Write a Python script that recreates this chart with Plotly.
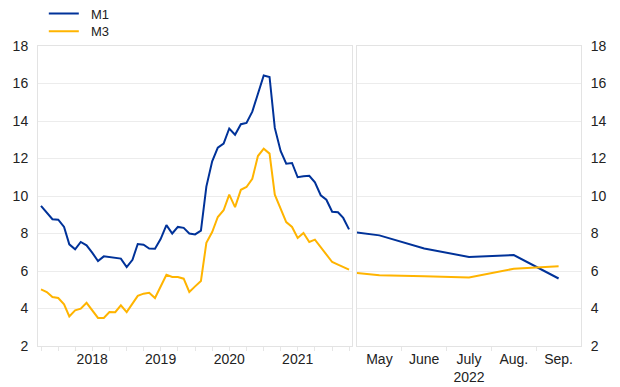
import plotly.graph_objects as go
import pandas as pd

months_left = pd.date_range("2017-10-01", "2022-04-01", freq="MS")
m1_left = [9.47, 9.1, 8.76, 8.74, 8.35, 7.42, 7.16, 7.55, 7.37, 6.98, 6.53, 6.78, 6.75, 6.69, 6.66,
           6.21, 6.6, 7.44, 7.4, 7.2, 7.19, 7.7, 8.45, 8.0, 8.35, 8.3, 8.0,
           7.95, 8.15, 10.5, 11.85, 12.58, 12.8, 13.6, 13.27, 13.83, 13.9, 14.5, 15.45,
           16.43, 16.35, 13.63, 12.4, 11.72, 11.76, 11.0, 11.05, 11.08, 10.73, 10.04, 9.8,
           9.16, 9.13, 8.83, 8.22]
m3_left = [5.02, 4.88, 4.61, 4.56, 4.22, 3.58, 3.9, 3.99, 4.3, 3.93, 3.5, 3.5, 3.81, 3.8, 4.17,
           3.81, 4.25, 4.67, 4.79, 4.84, 4.56, 5.15, 5.8, 5.68, 5.68, 5.59, 4.88,
           5.18, 5.47, 7.5, 8.08, 8.88, 9.24, 10.07, 9.41, 10.33, 10.48, 10.92, 12.13,
           12.52, 12.26, 10.07, 9.32, 8.61, 8.35, 7.76, 8.03, 7.55, 7.67, 7.28, 6.92,
           6.48, 6.34, 6.21, 6.07]

months_right = ["Apr.", "May", "June", "July", "Aug.", "Sep."]
m1_right = [8.2, 7.9, 7.2, 6.75, 6.85, 5.6]
m3_right = [6.0, 5.78, 5.72, 5.65, 6.12, 6.25]

year_labels = ["2018", "2019", "2020", "2021"]
y_ticks = [2, 4, 6, 8, 10, 12, 14, 16, 18]

BLUE = "#003299"
YELLOW = "#FFB400"
GRID = "#ececec"
FRAME = "#e3e3e3"
FONT = "Liberation Sans, Arial, sans-serif"
PAD = "\u00a0\u00a0"

fig = go.Figure()
fig.add_trace(go.Scatter(x=months_left, y=m1_left, mode="lines", name=PAD + "M1",
                         line=dict(color=BLUE, width=2), xaxis="x", yaxis="y", legend="legend"))
fig.add_trace(go.Scatter(x=months_left, y=m3_left, mode="lines", name=PAD + "M3",
                         line=dict(color=YELLOW, width=2), xaxis="x", yaxis="y", legend="legend2"))
xr = list(range(len(months_right)))
fig.add_trace(go.Scatter(x=xr, y=m1_right, mode="lines", name="M1", showlegend=False,
                         line=dict(color=BLUE, width=2), xaxis="x2", yaxis="y2"))
fig.add_trace(go.Scatter(x=xr, y=m3_right, mode="lines", name="M3", showlegend=False,
                         line=dict(color=YELLOW, width=2), xaxis="x2", yaxis="y2"))

right_text = [m if m != "July" else "July<br>2022" for m in months_right]

leg_common = dict(xanchor="left", yanchor="middle", orientation="v",
                  font=dict(size=13, color="#222222"), bgcolor="rgba(0,0,0,0)")

# page body has an 8px default margin: figure is 612x379 so the drawing fits the 620x387 window
fig.update_layout(
    width=612, height=379,
    margin=dict(l=30, r=39, t=38, b=41, autoexpand=False),
    plot_bgcolor="white", paper_bgcolor="white",
    font=dict(family=FONT, size=14, color="#222222"),
    showlegend=True,
    legend=dict(x=0.0107, y=1.108, **leg_common),
    legend2=dict(x=0.0107, y=1.049, **leg_common),
    xaxis=dict(domain=[0, 0.578], type="date",
               range=["2017-09-15", "2022-04-16"],
               tickvals=[f"{y}-07-01" for y in year_labels], ticktext=year_labels,
               ticks="", showgrid=False, showline=True, linecolor=FRAME, mirror=True,
               minor=dict(dtick="M3", tick0="2017-01-01", ticks="outside", ticklen=4,
                          tickcolor="#e6e6e6", showgrid=False),
               zeroline=False, anchor="y"),
    yaxis=dict(domain=[0, 1], range=[2, 18], tickvals=y_ticks, showgrid=True,
               gridcolor=GRID, showline=True, linecolor=FRAME, mirror=True,
               zeroline=False, ticks="", ticklabelstandoff=6, anchor="x"),
    xaxis2=dict(domain=[0.5875, 1], range=[0.5, 5.5], tickvals=xr[1:], ticktext=right_text[1:],
                showgrid=False, showline=True, linecolor=FRAME, mirror=True, zeroline=False,
                ticks="", minor=dict(tickvals=[1.5, 2.5, 3.5, 4.5], ticks="outside", ticklen=4,
                                     tickcolor="#e6e6e6"),
                anchor="y2"),
    yaxis2=dict(domain=[0, 1], range=[2, 18], tickvals=y_ticks, side="right", showgrid=True,
                gridcolor=GRID, showline=True, linecolor=FRAME, mirror=True, zeroline=False,
                ticks="", ticklabelstandoff=6, anchor="x2"),
)

fig.write_html("out.html")
